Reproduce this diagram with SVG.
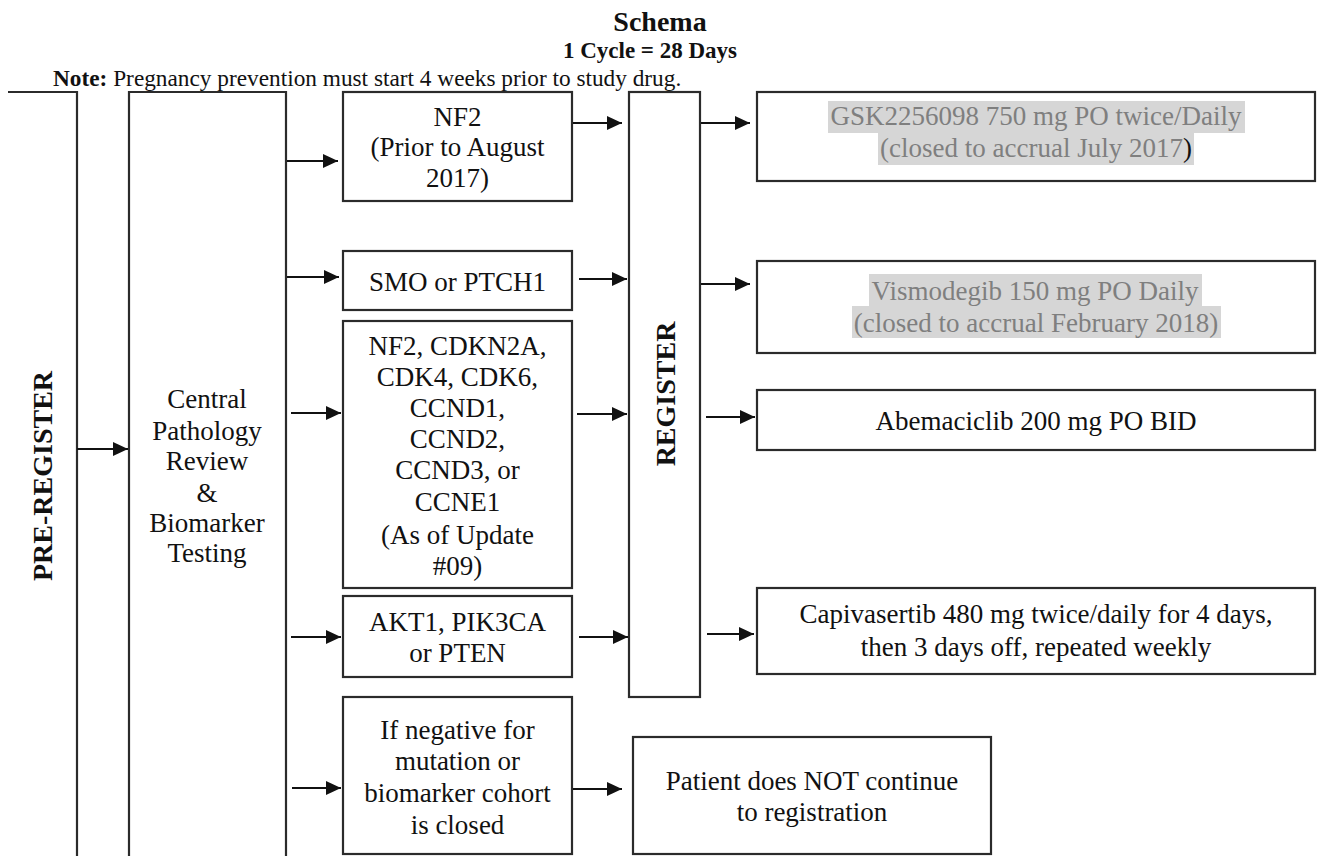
<svg xmlns="http://www.w3.org/2000/svg" width="1317" height="856" viewBox="0 0 1317 856">
<style>
  .box { fill: #fff; stroke: #2b2b2b; stroke-width: 2.2; }
  .open { fill: none; stroke: #2b2b2b; stroke-width: 2.2; }
  .t { font-family: "Liberation Serif", "Times New Roman", serif; font-size: 27px; fill: #111; text-anchor: middle; }
  .b { font-weight: bold; }
  .big { font-size: 28px; }
  .sub { font-size: 23px; }
  .note { font-size: 23.3px; text-anchor: start; }
  .g { fill: #7f7f7f; }
  .hl { fill: #d6d6d6; }
  .c line { stroke: #111; stroke-width: 2; marker-end: url(#ah); }
</style>
<defs>
  <marker id="ah" markerUnits="userSpaceOnUse" markerWidth="15" markerHeight="14" refX="15" refY="7" orient="auto">
    <path d="M0,0 L15,7 L0,14 Z" fill="#111"/>
  </marker>
</defs>
<rect width="1317" height="856" fill="#fff"/>

<g id="header">
  <text class="t b big" x="660" y="31">Schema</text>
  <text class="t b sub" x="650" y="58">1 Cycle = 28 Days</text>
  <text class="t note" x="53" y="86"><tspan font-weight="bold">Note:</tspan> Pregnancy prevention must start 4 weeks prior to study drug.</text>
</g>

<g id="preregister">
  <path class="open" d="M8,92 H77 V856"/>
  <text class="t b big" transform="translate(52,476) rotate(-90)">PRE-REGISTER</text>
</g>

<g id="central">
  <path class="open" d="M129,856 V92 H286 V856"/>
  <text class="t" x="207" y="408">Central</text>
  <text class="t" x="207" y="440">Pathology</text>
  <text class="t" x="207" y="470">Review</text>
  <text class="t" x="207" y="502">&amp;</text>
  <text class="t" x="207" y="532">Biomarker</text>
  <text class="t" x="207" y="562">Testing</text>
</g>

<g id="nf2">
  <rect class="box" x="343" y="92" width="229" height="109"/>
  <text class="t" x="457.5" y="126">NF2</text>
  <text class="t" x="457.5" y="156">(Prior to August</text>
  <text class="t" x="457.5" y="187">2017)</text>
</g>

<g id="smo">
  <rect class="box" x="343" y="251" width="229" height="59"/>
  <text class="t" x="457.5" y="291">SMO or PTCH1</text>
</g>

<g id="cdk">
  <rect class="box" x="343" y="321" width="229" height="267"/>
  <text class="t" x="457.5" y="355">NF2, CDKN2A,</text>
  <text class="t" x="457.5" y="386">CDK4, CDK6,</text>
  <text class="t" x="457.5" y="417">CCND1,</text>
  <text class="t" x="457.5" y="448">CCND2,</text>
  <text class="t" x="457.5" y="479">CCND3, or</text>
  <text class="t" x="457.5" y="511">CCNE1</text>
  <text class="t" x="457.5" y="544">(As of Update</text>
  <text class="t" x="457.5" y="575">#09)</text>
</g>

<g id="akt1">
  <rect class="box" x="343" y="596" width="229" height="81"/>
  <text class="t" x="457.5" y="631">AKT1, PIK3CA</text>
  <text class="t" x="457.5" y="662">or PTEN</text>
</g>

<g id="negative">
  <rect class="box" x="343" y="697" width="229" height="157"/>
  <text class="t" x="457.5" y="739">If negative for</text>
  <text class="t" x="457.5" y="770">mutation or</text>
  <text class="t" x="457.5" y="802">biomarker cohort</text>
  <text class="t" x="457.5" y="834">is closed</text>
</g>

<g id="register">
  <rect class="box" x="629" y="92" width="71" height="605"/>
  <text class="t b big" transform="translate(675,394) rotate(-90)">REGISTER</text>
</g>

<g id="gsk">
  <rect class="box" x="757" y="92" width="558" height="89"/>
  <rect class="hl" x="828" y="101" width="417" height="32"/>
  <rect class="hl" x="878" y="133" width="316" height="32"/>
  <text class="t g" x="1036" y="125">GSK2256098 750 mg PO twice/Daily</text>
  <text class="t g" x="1036" y="157">(closed to accrual July 2017<tspan fill="#111">)</tspan></text>
</g>

<g id="vismodegib">
  <rect class="box" x="757" y="261" width="558" height="92"/>
  <rect class="hl" x="869" y="274" width="333" height="32"/>
  <rect class="hl" x="852" y="306" width="369" height="32"/>
  <text class="t g" x="1035" y="300">Vismodegib 150 mg PO Daily</text>
  <text class="t g" x="1036" y="332">(closed to accrual February 2018)</text>
</g>

<g id="abemaciclib">
  <rect class="box" x="757" y="390" width="558" height="60"/>
  <text class="t" x="1036" y="430">Abemaciclib 200 mg PO BID</text>
</g>

<g id="capivasertib">
  <rect class="box" x="757" y="588" width="558" height="86"/>
  <text class="t" x="1036" y="623">Capivasertib 480 mg twice/daily for 4 days,</text>
  <text class="t" x="1036" y="656">then 3 days off, repeated weekly</text>
</g>

<g id="patient">
  <rect class="box" x="633" y="737" width="358" height="117"/>
  <text class="t" x="812" y="790">Patient does NOT continue</text>
  <text class="t" x="812" y="821">to registration</text>
</g>

<g id="connectors" class="c">
  <line x1="77" y1="449" x2="128" y2="449"/>
  <line x1="287" y1="161" x2="338" y2="161"/>
  <line x1="287" y1="277" x2="339" y2="277"/>
  <line x1="291" y1="413" x2="341" y2="413"/>
  <line x1="291" y1="637" x2="341" y2="637"/>
  <line x1="292" y1="788" x2="341" y2="788"/>
  <line x1="573" y1="123" x2="622" y2="123"/>
  <line x1="579" y1="279" x2="627" y2="279"/>
  <line x1="577" y1="414" x2="627" y2="414"/>
  <line x1="579" y1="637" x2="628" y2="637"/>
  <line x1="701" y1="123" x2="750" y2="123"/>
  <line x1="701" y1="284" x2="750" y2="284"/>
  <line x1="706" y1="417" x2="755" y2="417"/>
  <line x1="707" y1="634" x2="754" y2="634"/>
  <line x1="573" y1="789" x2="622" y2="789"/>
</g>
</svg>
